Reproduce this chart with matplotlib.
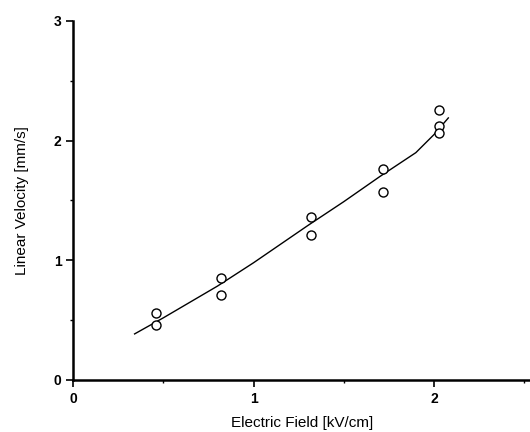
import matplotlib
matplotlib.use("Agg")
import matplotlib.pyplot as plt
from matplotlib.ticker import MultipleLocator

plt.rcParams['font.family'] = ['Liberation Sans', 'DejaVu Sans']

# measured points
field_pts = [0.46, 0.46, 0.82, 0.82, 1.32, 1.32, 1.72, 1.72, 2.03, 2.03, 2.03]
vel_pts = [0.56, 0.46, 0.855, 0.71, 1.36, 1.21, 1.76, 1.57, 2.26, 2.12, 2.06]

# fitted curve
curve_x = [0.34, 0.5, 0.8, 1.0, 1.3, 1.5, 1.7, 1.9, 2.0, 2.08]
curve_y = [0.385, 0.52, 0.785, 0.98, 1.29, 1.49, 1.70, 1.90, 2.05, 2.19]

xticks = [0, 1, 2]
yticks = [0, 1, 2, 3]

fig = plt.figure(figsize=(5.30, 4.32), dpi=100)
ax = fig.add_axes([0.1383, 0.1204, 0.8617, 0.831])

ax.plot(curve_x, curve_y, color='black', lw=1.0)
ax.plot(field_pts, vel_pts, linestyle='none', marker='o', ms=6.5,
        mfc='white', mec='black', mew=1.0)

ax.set_xlim(0, 2.533)
ax.set_ylim(0, 3)
ax.set_xticks(xticks)
ax.set_yticks(yticks)
ax.xaxis.set_minor_locator(MultipleLocator(0.5))
ax.yaxis.set_minor_locator(MultipleLocator(0.5))

for s in ['top', 'right']:
    ax.spines[s].set_visible(False)
for s in ['left', 'bottom']:
    ax.spines[s].set_linewidth(1.8)

ax.tick_params(which='major', direction='out', length=5, width=1.2, labelsize=10, pad=3.5)
ax.tick_params(which='minor', direction='out', length=2.5, width=1.0)
for lab in ax.get_xticklabels() + ax.get_yticklabels():
    lab.set_fontweight('bold')

ax.set_xlabel('Electric Field [kV/cm]', fontsize=11, labelpad=7)
ax.set_ylabel('Linear Velocity [mm/s]', fontsize=11, labelpad=18)

fig.savefig('out.png', dpi=100)
